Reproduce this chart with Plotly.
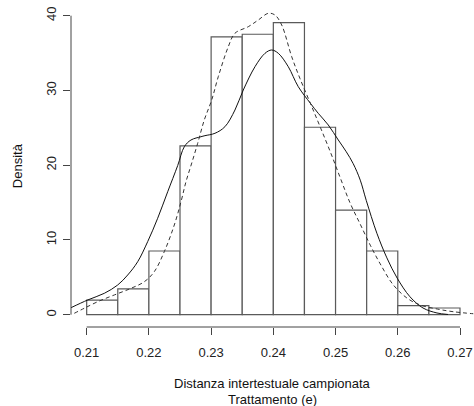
import plotly.graph_objects as go

# Histogram: left edge of each bin and its density
bin_starts = [0.210, 0.215, 0.220, 0.225, 0.230, 0.235, 0.240, 0.245, 0.250, 0.255, 0.260, 0.265]
bin_width = 0.005
density = [1.95, 3.46, 8.52, 22.58, 37.17, 37.52, 39.06, 25.08, 13.98, 8.52, 1.22, 0.90]

# Kernel density estimate (solid line)
kde_x = [0.20748, 0.21016, 0.21283, 0.21498, 0.21659, 0.21820, 0.21980, 0.22141, 0.22302,
         0.22463, 0.22569, 0.22676, 0.22837, 0.22901, 0.23062, 0.23222, 0.23383, 0.23517,
         0.23705, 0.23866, 0.23973, 0.24080, 0.24240, 0.24401, 0.24594, 0.24722, 0.24883,
         0.25044, 0.25172, 0.25284, 0.25397, 0.25493, 0.25664, 0.25825, 0.25990, 0.26196,
         0.26405, 0.26630, 0.26807]
kde_y = [0.94, 1.97, 2.86, 3.97, 5.31, 7.09, 9.77, 12.90, 16.45,
         19.96, 22.47, 23.37, 23.81, 23.95, 24.27, 25.15, 27.38, 30.06,
         33.18, 34.97, 35.41, 34.97, 33.18, 30.50, 28.30, 26.94, 25.38,
         23.37, 21.80, 20.20, 18.00, 15.30, 10.90, 7.60, 4.90, 2.40,
         0.90, 0.23, 0.03]

# Second density estimate (dashed line)
kde2_x = [0.20801, 0.20961, 0.21177, 0.21444, 0.21712, 0.21926, 0.22086, 0.22247, 0.22408,
          0.22516, 0.22596, 0.22684, 0.22784, 0.22890, 0.23009, 0.23115, 0.23276, 0.23383,
          0.23597, 0.23758, 0.23919, 0.24026, 0.24134, 0.24295, 0.24428, 0.24594, 0.24754,
          0.24915, 0.25076, 0.25236, 0.25397, 0.25558, 0.25718, 0.25927, 0.26152, 0.26361,
          0.26635, 0.26892, 0.27213]
kde2_y = [0.19, 0.86, 1.74, 2.64, 3.53, 4.41, 5.75, 8.43, 12.00,
          15.12, 17.79, 20.16, 22.93, 26.05, 28.72, 31.84, 35.85, 37.65,
          38.53, 39.42, 40.32, 40.09, 38.76, 34.52, 31.60, 28.30, 25.10,
          21.80, 18.30, 14.90, 12.10, 9.30, 6.80, 4.00, 2.20, 1.30,
          0.76, 0.40, 0.13]

x_ticks = [0.21, 0.22, 0.23, 0.24, 0.25, 0.26, 0.27]
x_tick_text = ["0.21", "0.22", "0.23", "0.24", "0.25", "0.26", "0.27"]
y_ticks = [0, 10, 20, 30, 40]
y_tick_text = ["0", "10", "20", "30", "40"]

FONT = "Liberation Sans, Arial, sans-serif"
AXIS_COL = "#444444"

bin_centers = [b + bin_width / 2 for b in bin_starts]

fig = go.Figure()
fig.add_trace(go.Bar(
    x=bin_centers, y=density, width=[bin_width] * len(density),
    marker=dict(color="white", line=dict(color="#5a5a5a", width=1.2)),
    hoverinfo="skip",
))
fig.add_trace(go.Scatter(
    x=kde_x, y=kde_y, mode="lines", line=dict(color="#111111", width=1, shape="spline"),
    hoverinfo="skip",
))
fig.add_trace(go.Scatter(
    x=kde2_x, y=kde2_y, mode="lines",
    line=dict(color="#333333", width=1, dash="4px,3px", shape="spline"),
    hoverinfo="skip",
))

# Axis lines spanning only the first to last tick
fig.add_shape(type="line", xref="x", yref="paper", x0=min(x_ticks), x1=max(x_ticks), y0=0, y1=0,
              line=dict(color=AXIS_COL, width=1))
fig.add_shape(type="line", xref="paper", yref="y", x0=0, x1=0, y0=min(y_ticks), y1=max(y_ticks),
              line=dict(color=AXIS_COL, width=1))

fig.add_annotation(text="Distanza intertestuale campionata", xref="paper", yref="paper",
                   x=0.5, y=-0.1743, xanchor="center", yanchor="middle", showarrow=False,
                   font=dict(family=FONT, size=13, color="#111111"))
fig.add_annotation(text="Trattamento (e)", xref="paper", yref="paper",
                   x=0.5, y=-0.2232, xanchor="center", yanchor="middle", showarrow=False,
                   font=dict(family=FONT, size=13, color="#111111"))
fig.add_annotation(text="Densità", xref="paper", yref="paper",
                   x=-0.134, y=0.495, xanchor="center", yanchor="middle", showarrow=False,
                   textangle=-90, font=dict(family=FONT, size=13, color="#111111"))

fig.update_layout(
    width=474, height=406,
    margin=dict(l=71, r=0, t=0, b=79),
    paper_bgcolor="white", plot_bgcolor="white",
    showlegend=False, barmode="overlay",
    font=dict(family=FONT, size=13, color="#222222"),
    xaxis=dict(range=[0.20748, 0.27225], tickvals=x_ticks, ticktext=x_tick_text,
               showgrid=False, zeroline=False, showline=False,
               ticks="outside", ticklen=7, tickcolor=AXIS_COL, tickwidth=1,
               ticklabelstandoff=6, tickfont=dict(family=FONT, size=13, color="#222222")),
    yaxis=dict(range=[-1.645, 42.1], tickvals=y_ticks, ticktext=y_tick_text,
               showgrid=False, zeroline=False, showline=False,
               ticks="outside", ticklen=7, tickcolor=AXIS_COL, tickwidth=1,
               tickangle=-90, ticklabelstandoff=2,
               tickfont=dict(family=FONT, size=13, color="#222222")),
)

fig.write_html("out.html")
